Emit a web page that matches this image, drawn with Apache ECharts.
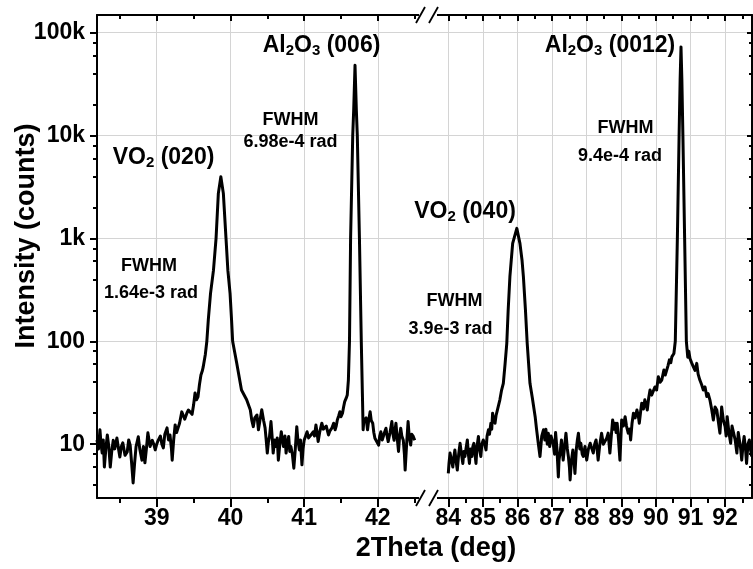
<!DOCTYPE html>
<html>
<head>
<meta charset="utf-8">
<script src="https://cdn.jsdelivr.net/npm/echarts@6/dist/echarts.min.js"></script>
<style>html,body{margin:0;padding:0;background:#fff}#c{width:753px;height:569px}</style>
</head>
<body>
<div id="c"></div>
<script>
// ---- data (2Theta in deg, intensity in counts) ----
const leftTheta = [38.19,38.21,38.23,38.245,38.26,38.275,38.29,38.31,38.33,38.35,38.37,38.39,38.41,38.43,38.46,38.48,38.50,38.52,38.54,38.57,38.60,38.62,38.64,38.66,38.68,38.70,38.72,38.75,38.77,38.80,38.82,38.84,38.86,38.88,38.91,38.94,38.96,38.98,39.00,39.02,39.05,39.07,39.09,39.11,39.14,39.16,39.18,39.20,39.21,39.23,39.25,39.27,39.29,39.31,39.34,39.36,39.38,39.41,39.43,39.45,39.48,39.50,39.52,39.54,39.56,39.58,39.60,39.62,39.63,39.66,39.68,39.70,39.73,39.77,39.805,39.836,39.87,39.904,39.94,39.965,39.995,40.015,40.03,40.085,40.15,40.22,
  40.27,40.29,40.31,40.33,40.36,40.38,40.40,40.425,40.45,40.47,40.485,40.50,40.515,40.53,40.55,40.565,40.58,40.60,40.62,40.635,40.65,40.67,40.69,40.705,40.72,40.74,40.755,40.77,40.79,40.805,40.82,40.84,40.86,40.88,40.90,40.915,40.935,40.95,40.97,40.985,41.00,41.02,41.04,41.06,41.08,41.10,41.125,41.14,41.16,41.175,41.19,41.21,41.24,41.26,41.28,41.30,41.33,41.35,41.375,41.40,41.42,41.435,41.45,41.47,41.485,41.50,41.52,41.535,41.55,41.57,41.585,
  41.60,41.615,41.63,41.659,41.672,41.69,41.708,41.721,41.75,41.775,41.79,
  41.80,41.81,41.825,41.84,41.86,41.875,41.895,41.91,41.93,41.945,41.96,41.985,42.01,42.025,42.04,42.06,42.075,42.09,42.11,42.125,42.14,42.165,42.19,42.205,42.22,42.235,42.245,42.26,42.28,42.295,42.31,42.325,42.345,42.36,42.37,42.39,42.41,42.425,42.445,42.46,42.48,42.50];
const leftCounts = [11,9,13.8,10,8.2,11,6.0,9,12.3,9.5,6.0,8.5,10.9,9,11.5,9.2,7.5,9.5,10.3,7.8,8.4,11,9.8,6.5,4.2,6.5,9.5,11.8,9,7.0,9.5,6.6,9,12.9,9.5,10.9,10,8.8,10,10.9,12,10,9.2,12.5,14.4,11,12.3,9,7.0,11,15.4,13,14.4,16,20.6,19,17.5,20.1,21.5,20.6,19.5,24,31.5,27,28.8,38,47,52,56,75,100,162,292,491,1000,2735,3960,2735,1000,491,292,162,100,61.5,33.6,27,
  21.5,17,14.8,18,19.2,13.8,17,21.6,17,14.4,11,8.2,10.5,11.9,16.6,12,8.2,11,9.5,11.5,7.0,10,13.2,11,9.5,12,8.2,10,11.9,8.5,9.5,8,5.85,9,14.8,11,8.8,11,6.3,9,10.9,12,13.2,11.5,11.4,12.5,13.2,12,15.4,13,10.6,13,16.0,14,14.3,15,12.3,13.5,14.3,16,13.8,15,17.2,19,20.7,18.5,20.0,23,25.9,28,30.1,
  42,100,1000,10000,17600,48000,17600,10000,1000,100,31,
  13.8,17,16.6,18,13.8,17,20.7,17,16.0,13,11.4,11.5,9.8,12,13.2,11,10.9,13,14.3,12,10.6,13,16.6,12.5,10.9,14,16.0,12,8.5,12,14.3,12,10.9,8,5.6,10,16.6,12,9.8,12.5,11.9,10.9];
const rightTheta = [84.00,84.02,84.05,84.09,84.13,84.16,84.19,84.22,84.26,84.30,84.34,84.38,84.42,84.45,84.48,84.51,84.55,84.58,84.61,84.645,84.68,84.71,84.74,84.77,84.80,84.83,84.87,84.90,84.94,84.97,85.01,85.05,85.09,85.12,85.16,85.19,85.23,85.255,85.28,85.31,85.35,85.38,85.42,85.45,85.49,85.54,85.59,85.64,85.69,85.73,85.78,85.82,85.86,85.98,86.07,86.13,86.17,86.23,86.28,
  86.36,86.43,86.51,86.55,86.60,86.65,86.70,86.75,86.79,86.82,86.86,86.89,86.93,86.97,87.03,87.07,87.10,87.14,87.18,87.20,87.23,87.27,87.32,87.36,87.40,87.44,87.47,87.50,87.52,87.56,87.60,87.63,87.66,87.70,87.73,87.76,87.80,87.83,87.87,87.90,87.95,88.00,88.05,88.10,88.15,88.19,88.23,88.27,88.30,88.33,88.38,88.43,88.48,88.53,88.58,88.62,88.67,88.71,88.75,88.79,88.82,88.85,88.88,88.92,88.96,89.01,89.06,89.11,89.15,89.20,89.24,89.27,89.31,89.35,89.40,89.45,89.49,89.52,89.56,89.59,89.64,89.68,89.72,89.75,89.79,89.83,89.88,89.92,89.97,90.02,90.07,90.12,90.17,90.23,90.27,90.31,90.35,90.39,90.43,90.46,90.49,90.52,
  90.56,90.62,90.67,90.70,90.725,90.75,90.78,90.83,90.88,
  90.92,90.95,90.985,91.03,91.08,91.13,91.18,91.22,91.27,91.32,91.37,91.42,91.47,91.51,91.56,91.61,91.66,91.71,91.76,91.80,91.85,91.88,91.90,91.95,92.00,92.03,92.06,92.11,92.16,92.20,92.24,92.29,92.34,92.38,92.41,92.45,92.48,92.52,92.55,92.59,92.62,92.66,92.70,92.73,92.77];
const rightCounts = [5.2,6.5,8.2,7,6.0,7.5,8.8,7,5.6,8,10.2,8,6.5,8.5,7.6,9,11,8,6.5,9,7.6,9.5,10.2,8,6.5,9.5,11.9,9,7.6,10,11,10,8.8,12,13.8,12.5,16,14,20,17,16,19,21.5,22,27,33.6,39,60,95.6,200,424,617,893,1250,893,617,424,200,95.6,
  39,28,18.5,14,10.2,7.6,12,13.8,11,14,10,12.8,9.5,12,10.2,8,13,9,4.8,7,8.2,11,7.0,9.5,12.8,9,7.6,6,4.5,7,8.8,7,5.2,9,11,12.8,9,10.2,8,7.6,9.5,7.0,9,10.2,9,8.2,10,11,9,7.0,10,12.8,10,10.2,11.5,12.8,8.2,12,17.2,14,16,13,16,11,7.0,17.2,15,18.5,15,12.8,14,11,16,20,18,21.5,19,16,21,25,22,27,24,21.5,28,33.6,30,31,36,33.6,45.3,40,42,52.6,47,48.8,58,66,62,70.5,68,76,
  100,1000,10000,35000,72500,35000,10000,1000,100,
  70,80,68,62,56.7,52,61,48,42,38,33.6,36,29,31,27,22,17.2,23,21.5,17,12.8,18,23,17,14.8,12,18.5,13,10.2,15,14.8,11,8.2,13,12.8,9,7.0,10,11.9,9,6.5,10,11,9,7.6];
const leftMajorTicks = [39,40,41,42];
const leftMinorTicks = [38.5,39.5,40.5,41.5,42.5];
const rightMajorTicks = [84,85,86,87,88,89,90,91,92];
const rightMinorTicks = [83.5,84.5,85.5,86.5,87.5,88.5,89.5,90.5,91.5,92.5];
const yMajorTicks = [10,100,1000,10000,100000];
const yMinorTicks = [4,6,8,20,40,60,80,200,400,600,800,2000,4000,6000,8000,20000,40000,60000,80000];
const yTickLabels = {1:'10',2:'100',3:'1k',4:'10k',5:'100k'};

const F = 'Liberation Sans, Arial, sans-serif';
const chart = echarts.init(document.getElementById('c'), null, {renderer:'canvas'});

function xAxes(grid, min, max, major, minor){
  const base = {type:'value', gridIndex:grid, min:min, max:max, splitNumber:5};
  return [
    Object.assign({}, base, {position:'bottom',
      axisLine:{show:true, onZero:false, lineStyle:{color:'#000', width:2}},
      axisTick:{show:true, customValues:major, length:9, inside:false, lineStyle:{color:'#000', width:2}},
      axisLabel:{show:true, customValues:major, color:'#000', fontSize:23, fontWeight:'bold', fontFamily:F, margin:9},
      splitLine:{show:true, lineStyle:{color:'#d4d4d4', width:1}}}),
    Object.assign({}, base, {position:'bottom',
      axisLine:{show:false, onZero:false},
      axisTick:{show:true, customValues:minor, length:5, inside:false, lineStyle:{color:'#000', width:2}},
      axisLabel:{show:false}, splitLine:{show:false}}),
    Object.assign({}, base, {position:'top',
      axisLine:{show:true, onZero:false, lineStyle:{color:'#000', width:2}},
      axisTick:{show:true, customValues:major, length:6, inside:true, lineStyle:{color:'#000', width:2}},
      axisLabel:{show:false}, splitLine:{show:false}}),
    Object.assign({}, base, {position:'top',
      axisLine:{show:false, onZero:false},
      axisTick:{show:true, customValues:minor, length:4, inside:true, lineStyle:{color:'#000', width:2}},
      axisLabel:{show:false}, splitLine:{show:false}})
  ];
}
const yBase = {type:'log', logBase:10, min:3, max:148000};
const yAxes = [
  Object.assign({}, yBase, {gridIndex:0, position:'left',
    axisLine:{show:true, onZero:false, lineStyle:{color:'#000', width:2}},
    axisTick:{show:true, customValues:yMajorTicks, length:7, lineStyle:{color:'#000', width:2}},
    axisLabel:{show:true, customValues:yMajorTicks, color:'#000', fontSize:23, fontWeight:'bold', fontFamily:F, margin:12,
      formatter:function(v){return yTickLabels[Math.round(Math.log10(v))] || '';}},
    splitLine:{show:true, lineStyle:{color:'#d4d4d4', width:1}}}),
  Object.assign({}, yBase, {gridIndex:0, position:'left',
    axisLine:{show:false, onZero:false},
    axisTick:{show:true, customValues:yMinorTicks, length:4, lineStyle:{color:'#000', width:2}},
    axisLabel:{show:false}, splitLine:{show:false}}),
  Object.assign({}, yBase, {gridIndex:1, position:'left',
    axisLine:{show:false, onZero:false},
    axisTick:{show:false, customValues:yMajorTicks},
    axisLabel:{show:false},
    splitLine:{show:true, lineStyle:{color:'#d4d4d4', width:1}}}),
  Object.assign({}, yBase, {gridIndex:1, position:'right',
    axisLine:{show:true, onZero:false, lineStyle:{color:'#000', width:2}},
    axisTick:{show:true, inside:true, customValues:yMajorTicks, length:5, lineStyle:{color:'#000', width:2}},
    axisLabel:{show:false}, splitLine:{show:false}}),
  Object.assign({}, yBase, {gridIndex:1, position:'right',
    axisLine:{show:false, onZero:false},
    axisTick:{show:true, inside:true, customValues:yMinorTicks, length:3, lineStyle:{color:'#000', width:2}},
    axisLabel:{show:false}, splitLine:{show:false}})
];

function zip(a,b){return a.map((v,i)=>[v,b[i]]);}

function label(x, y, parts, size){
  const txt = parts.map(p => (p[1] ? '{s|' : '{m|') + p[0] + '}').join('');
  return {type:'text', x:x, y:y, z:100, style:{text:txt, align:'center', verticalAlign:'middle', fill:'#000',
    rich:{m:{fontSize:size, fontWeight:'bold', fontFamily:F, lineHeight:size+2, fill:'#000'},
          s:{fontSize:Math.round(size*0.65), fontWeight:'bold', fontFamily:F, lineHeight:8, verticalAlign:'bottom', fill:'#000'}}}};
}
function plain(x, y, t, size, rot){
  return {type:'text', x:x, y:y, rotation:rot||0, z:100, style:{text:t, align:'center', verticalAlign:'middle', fill:'#000',
    font:'bold '+size+'px '+F}};
}
function slash(x1,y1,x2,y2){
  return {type:'line', z:101, shape:{x1:x1,y1:y1,x2:x2,y2:y2}, style:{stroke:'#000', lineWidth:1.8}};
}

const option = {
  animation:false,
  backgroundColor:'#fff',
  grid:[
    {left:97, top:15, width:331, height:483},
    {left:428, top:15, width:324, height:483}
  ],
  xAxis:[].concat(xAxes(0, 38.19, 42.68, leftMajorTicks, leftMinorTicks),
                  xAxes(1, 83.413, 92.777, rightMajorTicks, rightMinorTicks)),
  yAxis:yAxes,
  series:[
    {type:'line', xAxisIndex:0, yAxisIndex:0, data:zip(leftTheta, leftCounts), showSymbol:false, symbol:'none',
      lineStyle:{color:'#000', width:3, join:'round'}, z:10},
    {type:'line', xAxisIndex:4, yAxisIndex:2, data:zip(rightTheta, rightCounts), showSymbol:false, symbol:'none',
      lineStyle:{color:'#000', width:3, join:'round'}, z:10}
  ],
  graphic:[
    {type:'rect', z:100, shape:{x:419, y:494, width:18, height:8}, style:{fill:'#fff'}},
    {type:'rect', z:100, shape:{x:419, y:11, width:18, height:8}, style:{fill:'#fff'}},
    slash(416,506,425,490), slash(429,506,438,490),
    slash(416,23,425,7), slash(429,23,438,7),
    plain(436, 549, '2Theta (deg)', 27, 0),
    plain(27, 236, 'Intensity (counts)', 27, Math.PI/2),
    label(163.5, 158, [['VO',0],['2',1],[' (020)',0]], 23),
    label(321.5, 46, [['Al',0],['2',1],['O',0],['3',1],[' (006)',0]], 23),
    label(610, 46, [['Al',0],['2',1],['O',0],['3',1],[' (0012)',0]], 23),
    label(465, 212, [['VO',0],['2',1],[' (040)',0]], 23),
    plain(290.5, 120, 'FWHM', 18), plain(290.5, 142.5, '6.98e-4 rad', 18),
    plain(149, 266.5, 'FWHM', 18), plain(151, 293, '1.64e-3 rad', 18),
    plain(625.5, 128.5, 'FWHM', 18), plain(620, 156.5, '9.4e-4 rad', 18),
    plain(454.5, 301, 'FWHM', 18), plain(450.5, 329, '3.9e-3 rad', 18)
  ]
};
chart.setOption(option);
</script>
</body>
</html>
